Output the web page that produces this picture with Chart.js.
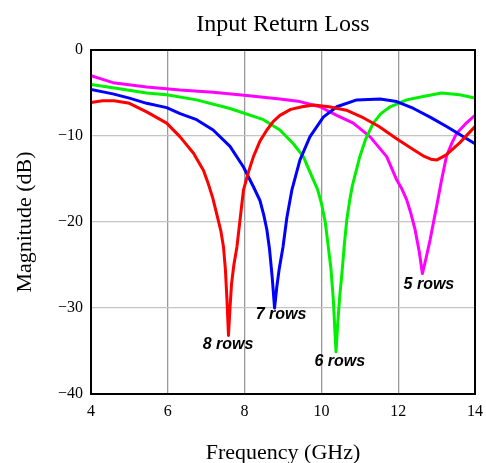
<!DOCTYPE html>
<html lang="en">
<head>
  <meta charset="UTF-8">
  <script src="https://cdn.jsdelivr.net/npm/chart.js"></script>
  <title>Input Return Loss</title>
  <style>
    body { margin: 0; background: #fff; }
  </style>
</head>
<body>
  <canvas id="grafico" width="486" height="463"></canvas>
<script>
  // 8 rows
  const freq8 = [4.0, 4.3, 4.6, 5.0, 5.45, 5.97, 6.32, 6.67, 6.93, 7.05, 7.17, 7.27, 7.38, 7.45, 7.5, 7.54, 7.58, 7.62, 7.66, 7.72, 7.8, 7.88, 7.97, 8.1, 8.23, 8.4, 8.58, 8.75, 8.92, 9.2, 9.5, 9.8, 10.2, 10.65, 11.1, 11.5, 11.95, 12.4, 12.65, 12.85, 13.0, 13.25, 13.6, 14.0];
  const db8 = [-6.1, -5.9, -5.9, -6.2, -7.2, -8.5, -10.1, -12.0, -14.0, -15.5, -17.2, -19.0, -21.0, -22.9, -25.5, -29.0, -33.2, -30.0, -27.2, -25.0, -22.9, -19.8, -16.3, -14.2, -12.4, -10.6, -9.3, -8.3, -7.6, -6.9, -6.6, -6.4, -6.6, -7.0, -7.9, -8.9, -10.3, -11.6, -12.3, -12.7, -12.8, -12.2, -10.8, -8.9];
  // 7 rows
  const freq7 = [4.0, 4.57, 5.0, 5.45, 5.97, 6.32, 6.75, 7.18, 7.62, 7.97, 8.23, 8.4, 8.5, 8.58, 8.65, 8.72, 8.78, 8.84, 8.9, 9.0, 9.1, 9.23, 9.44, 9.7, 10.05, 10.4, 10.92, 11.53, 11.96, 12.4, 12.83, 13.26, 14.0];
  const db7 = [-4.6, -5.1, -5.6, -6.2, -6.7, -7.4, -8.1, -9.3, -11.2, -13.6, -15.9, -17.5, -19.2, -20.9, -23.2, -26.5, -30.0, -27.5, -25.5, -22.9, -19.5, -16.3, -12.8, -10.1, -7.8, -6.6, -5.8, -5.7, -6.0, -6.8, -7.8, -8.9, -10.9];
  // 6 rows
  const freq6 = [4.0, 4.57, 5.45, 5.97, 6.75, 7.62, 8.49, 8.92, 9.27, 9.53, 9.79, 9.9, 10.0, 10.1, 10.18, 10.25, 10.31, 10.38, 10.43, 10.48, 10.53, 10.6, 10.66, 10.74, 10.81, 11.0, 11.15, 11.35, 11.55, 11.79, 12.22, 12.65, 13.13, 13.6, 14.0];
  const db6 = [-4.0, -4.4, -5.0, -5.2, -5.8, -6.8, -8.1, -9.3, -10.9, -12.4, -15.1, -16.2, -17.8, -20.0, -22.9, -25.5, -29.0, -35.1, -31.5, -28.5, -26.2, -22.5, -19.8, -17.4, -15.7, -12.4, -10.4, -8.5, -7.4, -6.6, -5.8, -5.4, -5.0, -5.2, -5.6];
  // 5 rows
  const freq5 = [4.0, 4.57, 5.45, 6.32, 7.18, 8.05, 8.92, 9.44, 9.96, 10.4, 10.83, 11.27, 11.7, 11.96, 12.1, 12.22, 12.33, 12.44, 12.55, 12.63, 12.72, 12.83, 12.92, 13.0, 13.13, 13.26, 13.4, 13.52, 13.75, 14.0];
  const db5 = [-3.0, -3.8, -4.3, -4.65, -4.9, -5.3, -5.7, -6.0, -6.6, -7.6, -8.5, -10.1, -12.4, -15.1, -16.2, -17.4, -19.0, -20.9, -23.5, -26.0, -24.3, -22.1, -20.0, -18.2, -15.1, -12.3, -10.8, -9.7, -8.6, -7.6];

  const series = ['8 rows', '7 rows', '6 rows', '5 rows'];
  const cores = ['#ff0000', '#0000ff', '#00f000', '#ff00ff'];
  const freqs = [freq8, freq7, freq6, freq5];
  const valores = [db8, db7, db6, db5];

  // label anchors (GHz, dB)
  const rotuloX = [7.57, 8.95, 10.48, 12.8];
  const rotuloY = [-34.2, -30.8, -36.2, -27.3];

  const xTicks = [4, 6, 8, 10, 12, 14];
  const yTicks = [0, -10, -20, -30, -40];

  const ctx = document.getElementById('grafico');

  const datasets = series.map((nome, i) => ({
    label: nome,
    data: freqs[i].map((f, j) => ({ x: f, y: valores[i][j] })),
    borderColor: cores[i],
    borderWidth: 3,
    borderJoinStyle: 'round',
    pointRadius: 0,
    tension: 0,
    fill: false
  }));

  const extras = {
    id: 'extras',
    afterDraw(chart) {
      const c = chart.ctx;
      const a = chart.chartArea;
      const sx = chart.scales.x;
      const sy = chart.scales.y;
      c.save();
      // moldura
      c.strokeStyle = '#000';
      c.lineWidth = 2;
      c.strokeRect(a.left, a.top, a.right - a.left, a.bottom - a.top);
      // titulo
      c.fillStyle = '#000';
      c.font = '24px "Liberation Serif", "Times New Roman", serif';
      c.textAlign = 'center';
      c.textBaseline = 'middle';
      c.fillText('Input Return Loss', (a.left + a.right) / 2, 25);
      // rotulos das curvas
      c.font = 'italic bold 16px "Liberation Sans", Arial, sans-serif';
      series.forEach((nome, i) => {
        c.fillText(nome, sx.getPixelForValue(rotuloX[i]), sy.getPixelForValue(rotuloY[i]));
      });
      c.restore();
    }
  };

  new Chart(ctx, {
    type: 'line',
    data: { datasets },
    options: {
      responsive: false,
      animation: false,
      layout: { padding: { top: 50, right: 11, left: 0, bottom: 0 } },
      plugins: {
        legend: { display: false },
        title: { display: false },
        tooltip: { enabled: false }
      },
      scales: {
        x: {
          type: 'linear',
          min: 4,
          max: 14,
          afterFit: (s) => { s.height = 69; s.paddingLeft = 0; s.paddingRight = 0; },
          afterBuildTicks: (s) => { s.ticks = xTicks.map(v => ({ value: v })); },
          border: { display: false },
          grid: { color: '#999', lineWidth: 1.3, drawTicks: false },
          ticks: {
            color: '#000',
            padding: 8,
            maxRotation: 0,
            font: { family: '"Liberation Serif", "Times New Roman", serif', size: 16 },
            callback: (v) => String(v)
          },
          title: {
            display: true,
            text: 'Frequency (GHz)',
            color: '#000',
            padding: { top: 0, bottom: -3 },
            font: { family: '"Liberation Serif", "Times New Roman", serif', size: 22 }
          }
        },
        y: {
          min: -40,
          max: 0,
          afterFit: (s) => { s.width = 91; s.paddingTop = 0; s.paddingBottom = 0; },
          afterBuildTicks: (s) => { s.ticks = yTicks.map(v => ({ value: v })); },
          border: { display: false },
          grid: { color: '#c4c4c4', lineWidth: 1.3, drawTicks: false },
          ticks: {
            color: '#000',
            padding: 8,
            font: { family: '"Liberation Serif", "Times New Roman", serif', size: 16 },
            callback: (v) => v < 0 ? '\u2212' + Math.abs(v) : String(v)
          },
          title: {
            display: true,
            text: 'Magnitude (dB)',
            color: '#000',
            padding: { top: 12, bottom: 0 },
            font: { family: '"Liberation Serif", "Times New Roman", serif', size: 22 }
          }
        }
      }
    },
    plugins: [extras]
  });
</script>
</body>
</html>
